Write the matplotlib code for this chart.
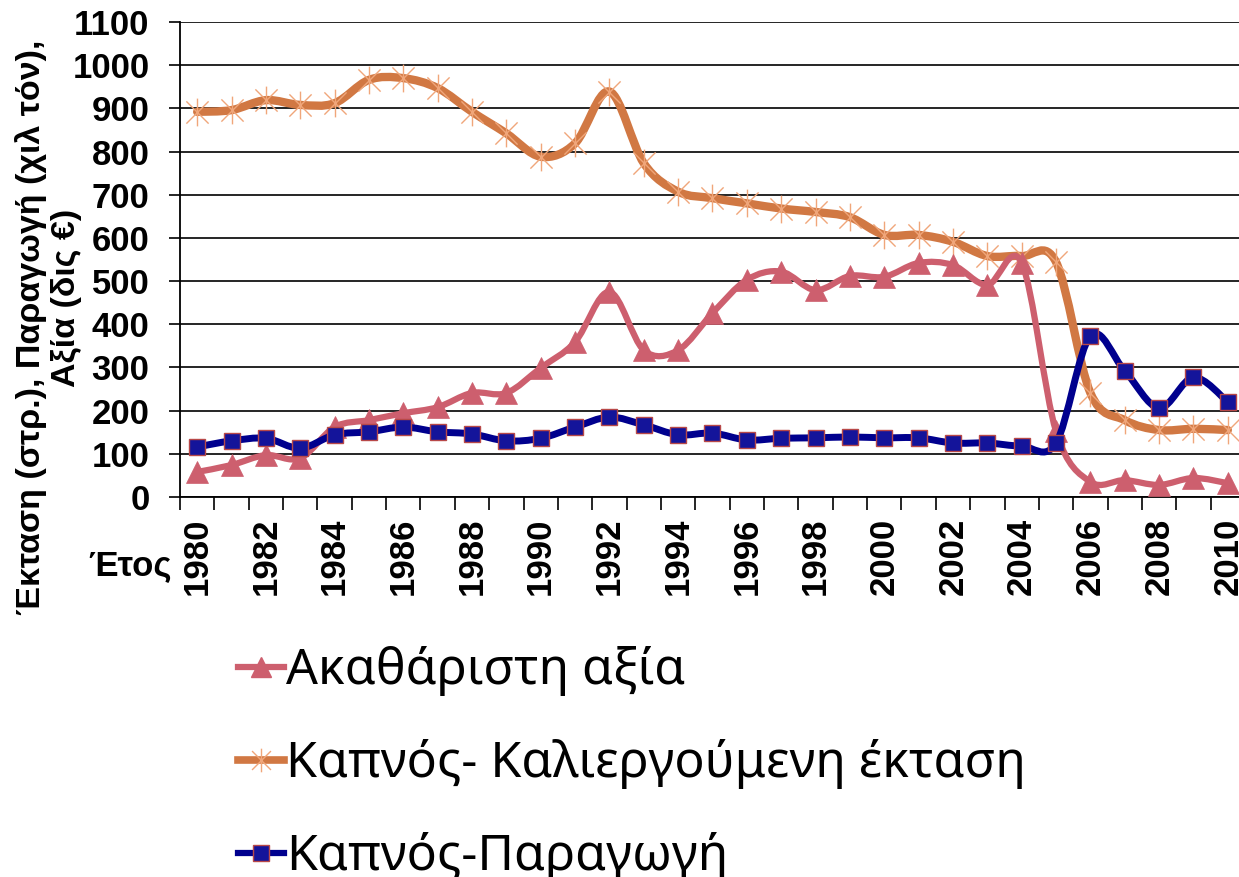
import matplotlib
matplotlib.use("Agg")
import matplotlib.pyplot as plt
from matplotlib.path import Path
from matplotlib.patches import PathPatch
from matplotlib.lines import Line2D
import numpy as np

years = list(range(1980, 2011))
value = [58, 74, 97, 90, 162, 178, 194, 208, 241, 241, 299, 359, 475, 340, 340,
         426, 503, 522, 479, 512, 510, 542, 537, 491, 542, 152, 35, 39, 28, 44, 32]
area = [892, 896, 919, 908, 912, 966, 970, 947, 892, 842, 788, 819, 939, 773, 707,
        692, 680, 668, 660, 648, 607, 607, 591, 558, 558, 544, 241, 178, 155, 158, 155]
production = [116, 130, 136, 113, 144, 151, 162, 151, 146, 130, 136, 162, 185, 167, 144,
              148, 132, 136, 137, 139, 137, 137, 125, 125, 118, 125, 373, 292, 206, 277, 220]
year_labels = [str(y) for y in range(1980, 2011, 2)]

labels = ["Ακαθάριστη αξία", "Καπνός- Καλιεργούμενη έκταση", "Καπνός-Παραγωγή"]
ylabel_line1 = "Έκταση (στρ.), Παραγωγή (χιλ τόν),"
ylabel_line2 = "Αξία (δις €)"
xlabel = "Έτος"

c_value = "#CD5F6E"
c_area = "#D17843"
c_area_mk = "#F0A67A"
c_prod = "#00008E"
c_prod_mk = "#14149A"
c_prod_edge = "#B84848"

plt.rcParams['font.family'] = ['Liberation Sans', 'DejaVu Sans']

W, H = 1239, 877
fig = plt.figure(figsize=(W / 100, H / 100), dpi=100)
ax = fig.add_axes([180 / W, 1 - 497 / H, (1245 - 180) / W, (497 - 22) / H])


def smooth_path(xs, ys):
    p = np.column_stack([xs, ys]).astype(float)
    n = len(p)
    verts = [p[0]]
    codes = [Path.MOVETO]
    for i in range(n - 1):
        p0 = p[i - 1] if i > 0 else p[i]
        p3 = p[i + 2] if i + 2 < n else p[i + 1]
        c1 = p[i] + (p[i + 1] - p0) / 6.0
        c2 = p[i + 1] - (p3 - p[i]) / 6.0
        verts += [c1, c2, p[i + 1]]
        codes += [Path.CURVE4] * 3
    return Path(verts, codes)


star = Path([(0, -1), (0, 1), (-0.8, -0.8), (0.8, 0.8), (-0.8, 0.8), (0.8, -0.8)],
            [Path.MOVETO, Path.LINETO] * 3)

# orange area
ax.add_patch(PathPatch(smooth_path(years, area), facecolor='none', edgecolor=c_area,
                       lw=6.0, capstyle='round', joinstyle='round', zorder=3))
ax.plot(years, area, linestyle='none', marker=star, markersize=20,
        markerfacecolor='none', markeredgecolor=c_area_mk, markeredgewidth=1.0, zorder=3.5)
# pink value
ax.add_patch(PathPatch(smooth_path(years, value), facecolor='none', edgecolor=c_value,
                       lw=4.5, capstyle='round', joinstyle='round', zorder=4))
ax.plot(years, value, linestyle='none', marker='^', markersize=16,
        markerfacecolor=c_value, markeredgecolor=c_value, markeredgewidth=0.5, zorder=4.5)
# blue production
ax.add_patch(PathPatch(smooth_path(years, production), facecolor='none', edgecolor=c_prod,
                       lw=5.0, capstyle='round', joinstyle='round', zorder=5))
ax.plot(years, production, linestyle='none', marker='s', markersize=12,
        markerfacecolor=c_prod_mk, markeredgecolor=c_prod_edge, markeredgewidth=1.0, zorder=5.5)

ax.set_xlim(1979.5, 2010.5)
ax.set_ylim(0, 1100)
ax.set_yticks(range(0, 1101, 100))
ax.yaxis.grid(True, color='black', lw=1.2)
ax.set_axisbelow(True)
for s in ['top', 'right']:
    ax.spines[s].set_visible(False)
ax.spines['left'].set_linewidth(1.3)
ax.spines['bottom'].set_linewidth(1.3)
ax.tick_params(axis='y', direction='out', length=8, width=1.2, pad=14,
               labelsize=25)
for t in ax.get_yticklabels():
    t.set_fontweight('bold')

ax.set_xticks(range(1980, 2011, 2))
ax.set_xticklabels(year_labels, rotation=90, fontsize=25, fontweight='bold')
ax.set_xticks(np.arange(1979.5, 2011, 1), minor=True)
ax.tick_params(axis='x', which='major', length=0, pad=15)
ax.tick_params(axis='x', which='minor', direction='out', length=9, width=1.2)

fig.text(31 / W, 1 - 327 / H, ylabel_line1, rotation=90, ha='center', va='center',
         fontsize=24.5, fontweight='bold')
fig.text(66 / W, 1 - 298 / H, ylabel_line2, rotation=90, ha='center', va='center',
         fontsize=24.5, fontweight='bold')
fig.text(172 / W, 1 - 566 / H, xlabel, ha='right', va='center', fontsize=25,
         fontweight='bold')

handles = [
    Line2D([], [], color=c_value, lw=4.5, marker='^', markersize=15,
           markerfacecolor=c_value, markeredgecolor=c_value),
    Line2D([], [], color=c_area, lw=5.5, marker=star, markersize=17,
           markerfacecolor='none', markeredgecolor=c_area_mk, markeredgewidth=1.0),
    Line2D([], [], color=c_prod, lw=4.5, marker='s', markersize=11,
           markerfacecolor=c_prod_mk, markeredgecolor=c_prod_edge, markeredgewidth=1.0),
]
fig.legend(handles, labels, loc='upper left', bbox_to_anchor=(238 / W, 1 - 646 / H),
           frameon=False, handlelength=0.92, handletextpad=0.05,
           labelspacing=0.86, borderpad=0, borderaxespad=0, numpoints=1,
           prop={'family': ['Noto Sans', 'DejaVu Sans'], 'size': 36})

fig.savefig("out.png", dpi=100)
